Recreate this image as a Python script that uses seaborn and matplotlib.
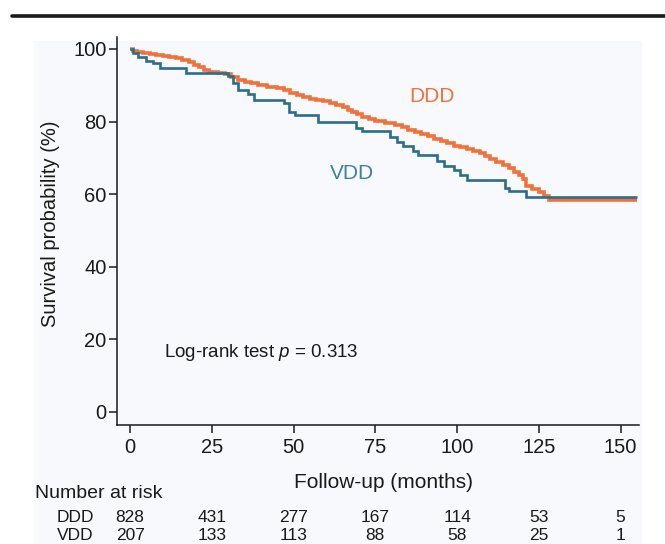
import numpy as np
import pandas as pd
import matplotlib
matplotlib.use("Agg")
import matplotlib.pyplot as plt
import matplotlib.transforms as mtransforms
from matplotlib.patches import Rectangle
from matplotlib.lines import Line2D
import seaborn as sns

# ---------------- data ----------------
ddd_time = [0, 1, 2, 4, 6, 8, 10, 12, 14, 16, 18, 19.5, 21, 22.5, 24, 27, 29, 31, 33, 35,
            37, 39, 42, 45, 47, 49, 51, 53, 55, 57, 59, 61, 63, 65, 66.5, 68, 69.5, 71, 73,
            75, 78, 81, 83, 85, 87, 89, 91, 93, 95, 97, 99, 101, 103, 105, 107, 108.5, 110,
            112, 114, 116, 117.5, 119, 120, 121, 123, 125, 126.5, 128, 155]
ddd_surv = [100, 99.5, 99.2, 98.9, 98.6, 98.4, 98.2, 97.9, 97.5, 97.0, 96.4, 95.7, 94.9,
            94.2, 93.6, 93.3, 93.0, 92.2, 91.5, 91.0, 90.5, 90.0, 89.6, 89.2, 88.6, 87.8,
            87.2, 86.7, 86.3, 86.0, 85.6, 85.2, 84.6, 83.9, 83.2, 82.6, 82.0, 81.3, 80.7,
            80.1, 79.6, 79.1, 78.4, 77.6, 77.0, 76.6, 76.0, 75.3, 74.6, 74.0, 73.4, 73.0,
            72.5, 71.9, 71.3, 70.5, 69.6, 68.9, 68.0, 67.2, 66.2, 65.3, 64.2, 62.2, 61.5,
            60.7, 59.6, 58.4, 58.4]

vdd_time = [0, 1, 2.5, 5, 7, 9, 17, 30, 31.5, 33, 36, 38, 47, 48.5, 50.5, 57.5, 69, 71,
            79.5, 81.5, 83.5, 86.5, 88, 94, 96, 99, 101, 103, 114.5, 115.8, 121.2, 155]
vdd_surv = [100, 98.8, 97.9, 96.8, 96.0, 94.7, 93.3, 92.5, 90.5, 88.7, 87.5, 86.0, 85.0,
            82.7, 81.8, 80.0, 78.1, 77.5, 75.8, 74.5, 73.3, 72.0, 70.8, 69.0, 67.8, 66.7,
            65.3, 63.9, 61.6, 60.9, 59.1, 59.1]

risk_times = [0, 25, 50, 75, 100, 125, 150]
risk_ddd = [828, 431, 277, 167, 114, 53, 5]
risk_vdd = [207, 133, 113, 88, 58, 25, 1]
groups = ["DDD", "VDD"]
y_ticks = [0, 20, 40, 60, 80, 100]

# ---------------- style ----------------
sns.set_style("ticks")
plt.rcParams["font.family"] = ["Liberation Sans", "DejaVu Sans"]
plt.rcParams["mathtext.fontset"] = "custom"
plt.rcParams["mathtext.it"] = "Liberation Sans:italic"
plt.rcParams["mathtext.rm"] = "Liberation Sans"

c_ddd = "#F0723A"
c_vdd = "#2C6C8C"
ink = "#1a1a1a"

W, H = 665, 544
fig = plt.figure(figsize=(W / 100, H / 100), dpi=100)
fig.patch.set_facecolor("white")

def fx(px):
    return px / W

def fy(py):
    return 1 - py / H

# faint panel background and top rule
bg = Rectangle((fx(34), 0), fx(642) - fx(34), fy(41), transform=fig.transFigure,
               facecolor="#f8f9fc", edgecolor="none", zorder=-10)
fig.patches.append(bg)
fig.lines.append(Line2D([fx(12), 1.0], [fy(16), fy(16)], transform=fig.transFigure,
                        color=ink, linewidth=2.6, zorder=-5))

ax = fig.add_axes([fx(117), 119 / H, 521.6 / W, 388 / H])
ax.set_facecolor("none")
ax.set_zorder(5)

df = pd.concat([
    pd.DataFrame({"time": ddd_time, "surv": ddd_surv, "group": "DDD"}),
    pd.DataFrame({"time": vdd_time, "surv": vdd_surv, "group": "VDD"}),
])

sns.lineplot(data=df[df.group == "VDD"], x="time", y="surv", ax=ax, color=c_vdd,
             linewidth=1.9, drawstyle="steps-post", estimator=None, sort=False, zorder=3,
             solid_joinstyle="miter", solid_capstyle="butt")
sns.lineplot(data=df[df.group == "DDD"], x="time", y="surv", ax=ax, color=c_ddd,
             linewidth=2.6, drawstyle="steps-post", estimator=None, sort=False, zorder=2,
             solid_joinstyle="miter", solid_capstyle="butt")

ax.set_xlim(-4, 155.5)
ax.set_ylim(-3.6, 103.3)
ax.set_xticks(risk_times)
ax.set_yticks(y_ticks)
ax.tick_params(axis="both", labelsize=14.5, length=5.5, width=1.1, color=ink,
               labelcolor=ink)
ax.tick_params(axis="x", pad=4)
ax.tick_params(axis="y", pad=2)
for s in ["top", "right"]:
    ax.spines[s].set_visible(False)
for s in ["left", "bottom"]:
    ax.spines[s].set_color(ink)
    ax.spines[s].set_linewidth(1.1)

ax.set_xlabel("Follow-up (months)", fontsize=15, color=ink)
ax.set_ylabel("Survival probability (%)", fontsize=14.5, color=ink)
ax.xaxis.set_label_coords((384 - 117) / 521.6, (425 - 482) / 388)
ax.xaxis.label.set_verticalalignment("center")
ax.yaxis.set_label_coords((51 - 117) / 521.6, (425 - 224) / 388)
ax.yaxis.label.set_verticalalignment("center")

ax.text(92.4, 86.8, "DDD", color=c_ddd, fontsize=15, ha="center", va="center")
ax.text(67.9, 65.6, "VDD", color="#3A82A4", fontsize=15, ha="center", va="center")
ax.text(10.4, 16.5, r"Log-rank test $\it{p}$ = 0.313", color=ink, fontsize=13.5,
        ha="left", va="center")

# number at risk table
fig.text(fx(35), fy(493), "Number at risk", fontsize=14, color=ink,
         ha="left", va="center")
trans = mtransforms.blended_transform_factory(ax.transData, fig.transFigure)
for name, vals, ypx in [("DDD", risk_ddd, 518), ("VDD", risk_vdd, 536)]:
    fig.text(fx(57), fy(ypx), name, fontsize=12.5, color=ink, ha="left", va="center")
    for t, v in zip(risk_times, vals):
        ax.text(t, fy(ypx), str(v), transform=trans, fontsize=12.5, color=ink,
                ha="center", va="center", clip_on=False)

fig.savefig("out.png", dpi=100, facecolor="white")
